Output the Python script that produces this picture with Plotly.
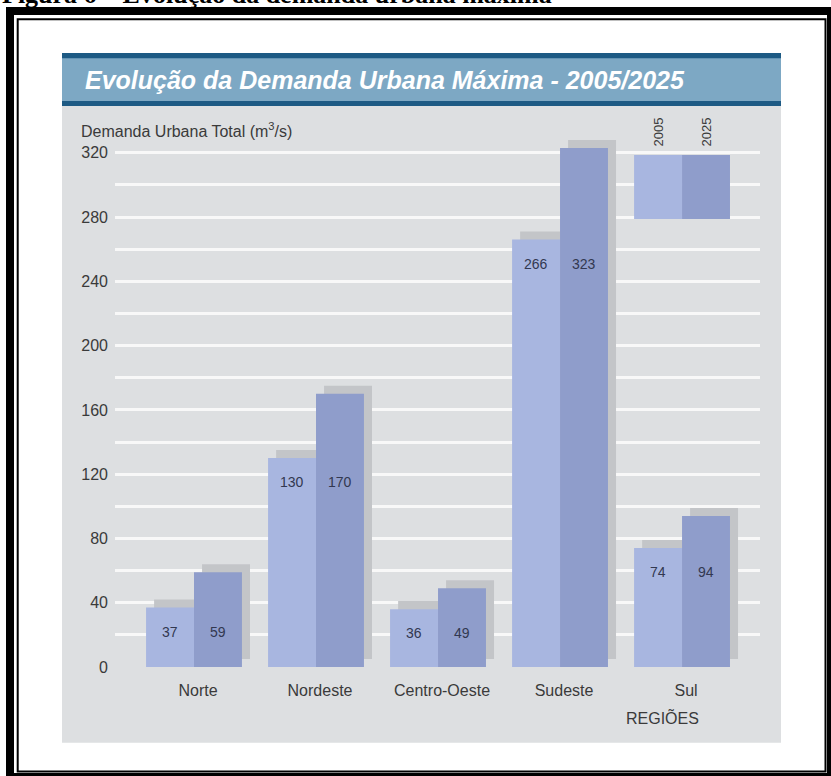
import plotly.graph_objects as go

# ---- data -------------------------------------------------------------
regions = ["Norte", "Nordeste", "Centro-Oeste", "Sudeste", "Sul"]
demand_2005 = [37, 130, 36, 266, 74]
demand_2025 = [59, 170, 49, 323, 94]
years = ["2005", "2025"]
y_ticks = [0, 40, 80, 120, 160, 200, 240, 280, 320]
y_tick_labels = [str(v) for v in y_ticks]

# ---- geometry / style ---------------------------------------------------
W, H = 831, 776
ML, MR, MT, MB = 115, 71, 130, 109
PW = W - ML - MR
PH = H - MT - MB


def px(x):
    """pixel column -> paper x"""
    return (x - ML) / PW


def py(y):
    """pixel row (from top) -> paper y"""
    return (H - MB - y) / PH


X_RANGE = [-0.6475, 4.639]
Y_RANGE = [0, 334.2]
BAR_W = 0.393        # width of one bar (category units)
SH_DX = 0.066        # drop-shadow shift to the right (category units)
SH_DY = 5.0          # drop-shadow shift upward (value units)

C_2005 = "#a8b6e0"
C_2025 = "#8f9dcb"
C_SHADOW = "#c3c5c8"
C_PANEL = "#dddfe1"
C_GRID = "#f8f8f8"
C_TITLE_DARK = "#1d5a84"
C_TITLE_LIGHT = "#7da8c4"
C_TEXT = "#3a3a3a"
C_VALUE = "#323850"
SANS = "Liberation Sans, Arial, sans-serif"
SERIF = "Liberation Serif, Times New Roman, serif"

pos = list(range(len(regions)))

fig = go.Figure()

# drop shadows behind the bars
for vals, off in ((demand_2005, -BAR_W + SH_DX), (demand_2025, SH_DX)):
    fig.add_trace(go.Bar(
        x=pos, y=vals, base=SH_DY, width=BAR_W, offset=off,
        marker=dict(color=C_SHADOW, line=dict(width=0)),
        hoverinfo="skip", showlegend=False,
    ))

# the bars themselves
for vals, off, col, name in ((demand_2005, -BAR_W, C_2005, years[0]),
                             (demand_2025, 0.0, C_2025, years[1])):
    fig.add_trace(go.Bar(
        x=pos, y=vals, width=BAR_W, offset=off, name=name,
        marker=dict(color=col, line=dict(width=0)),
        showlegend=False,
    ))

annotations = []

# value labels, both placed just below the top of the 2005 bar
for i in pos:
    for vals, dx in ((demand_2005, -BAR_W / 2), (demand_2025, BAR_W / 2)):
        annotations.append(dict(
            x=i + dx, y=demand_2005[i], xref="x", yref="y",
            text=str(vals[i]), showarrow=False, yshift=-24,
            xanchor="center", yanchor="middle",
            font=dict(family=SANS, size=14, color=C_VALUE),
        ))

# legend labels (rotated) above the swatches
last = pos[-1]
for dx, lab in ((-BAR_W / 2, years[0]), (BAR_W / 2, years[1])):
    annotations.append(dict(
        x=last + dx, y=py(132.5), xref="x", yref="paper",
        text=lab, textangle=-90, showarrow=False,
        xanchor="center", yanchor="middle",
        font=dict(family=SANS, size=13, color=C_TEXT),
    ))

# axis titles
annotations.append(dict(
    x=px(79), y=py(130), xref="paper", yref="paper",
    text="Demanda Urbana Total (m<sup>3</sup>/s)", showarrow=False,
    xanchor="left", yanchor="middle",
    font=dict(family=SANS, size=16, color=C_TEXT),
))
annotations.append(dict(
    x=px(662), y=py(717), xref="paper", yref="paper",
    text="REGIÕES", showarrow=False, xanchor="center", yanchor="middle",
    font=dict(family=SANS, size=16, color=C_TEXT),
))

# banner title
annotations.append(dict(
    x=px(83), y=py(80), xref="paper", yref="paper",
    text="<b><i>Evolução da Demanda Urbana Máxima - 2005/2025</i></b>",
    showarrow=False, xanchor="left", yanchor="middle",
    font=dict(family=SANS, size=25, color="white"),
))

# figure caption at the very top
annotations.append(dict(
    x=px(0), y=py(-6), xref="paper", yref="paper",
    text="<b>Figura 6 – Evolução da demanda urbana máxima</b>",
    showarrow=False, xanchor="left", yanchor="middle",
    font=dict(family=SERIF, size=26, color="black"),
))

shapes = []
# grey panel
shapes.append(dict(type="rect", xref="paper", yref="paper", layer="below",
                   x0=px(62), x1=px(781), y0=py(742.7), y1=py(53),
                   fillcolor=C_PANEL, line=dict(width=0)))
# title banner
shapes.append(dict(type="rect", xref="paper", yref="paper", layer="below",
                   x0=px(62), x1=px(781), y0=py(106), y1=py(53),
                   fillcolor=C_TITLE_DARK, line=dict(width=0)))
shapes.append(dict(type="rect", xref="paper", yref="paper", layer="below",
                   x0=px(62), x1=px(781), y0=py(101), y1=py(58.3),
                   fillcolor=C_TITLE_LIGHT, line=dict(width=0)))
# legend swatches, aligned with the last group's bars
for x0, x1, col in ((last - BAR_W, last, C_2005), (last, last + BAR_W, C_2025)):
    shapes.append(dict(type="rect", xref="x", yref="paper", layer="above",
                       x0=x0, x1=x1, y0=py(219), y1=py(155),
                       fillcolor=col, line=dict(width=0)))
# double black frame
shapes.append(dict(type="rect", xref="paper", yref="paper", layer="above",
                   x0=px(10), x1=px(831), y0=py(777), y1=py(11),
                   fillcolor="rgba(0,0,0,0)", line=dict(color="black", width=8)))
shapes.append(dict(type="rect", xref="paper", yref="paper", layer="above",
                   x0=px(17.7), x1=px(825.5), y0=py(771.5), y1=py(19.2),
                   fillcolor="rgba(0,0,0,0)", line=dict(color="black", width=2)))

fig.update_layout(
    width=W, height=H,
    margin=dict(l=ML, r=MR, t=MT, b=MB, pad=0),
    paper_bgcolor="white",
    plot_bgcolor="rgba(0,0,0,0)",
    barmode="overlay",
    showlegend=False,
    font=dict(family=SANS, color=C_TEXT),
    annotations=annotations,
    shapes=shapes,
    xaxis=dict(
        range=X_RANGE, showgrid=False, zeroline=False, showline=False,
        tickmode="array", tickvals=pos, ticktext=regions, ticks="",
        tickfont=dict(family=SANS, size=16, color=C_TEXT),
        ticklabelstandoff=12, ticklabelshift=4,
    ),
    yaxis=dict(
        range=Y_RANGE, showline=False, zeroline=False,
        tickmode="array", tickvals=y_ticks, ticktext=y_tick_labels, ticks="",
        tickfont=dict(family=SANS, size=16, color=C_TEXT),
        showgrid=True, gridcolor=C_GRID, gridwidth=2.5,
        ticklabelstandoff=6,
        minor=dict(tickmode="linear", tick0=0, dtick=20, showgrid=True,
                   gridcolor=C_GRID, gridwidth=2.5, ticks=""),
    ),
)

fig.write_html("out.html")
